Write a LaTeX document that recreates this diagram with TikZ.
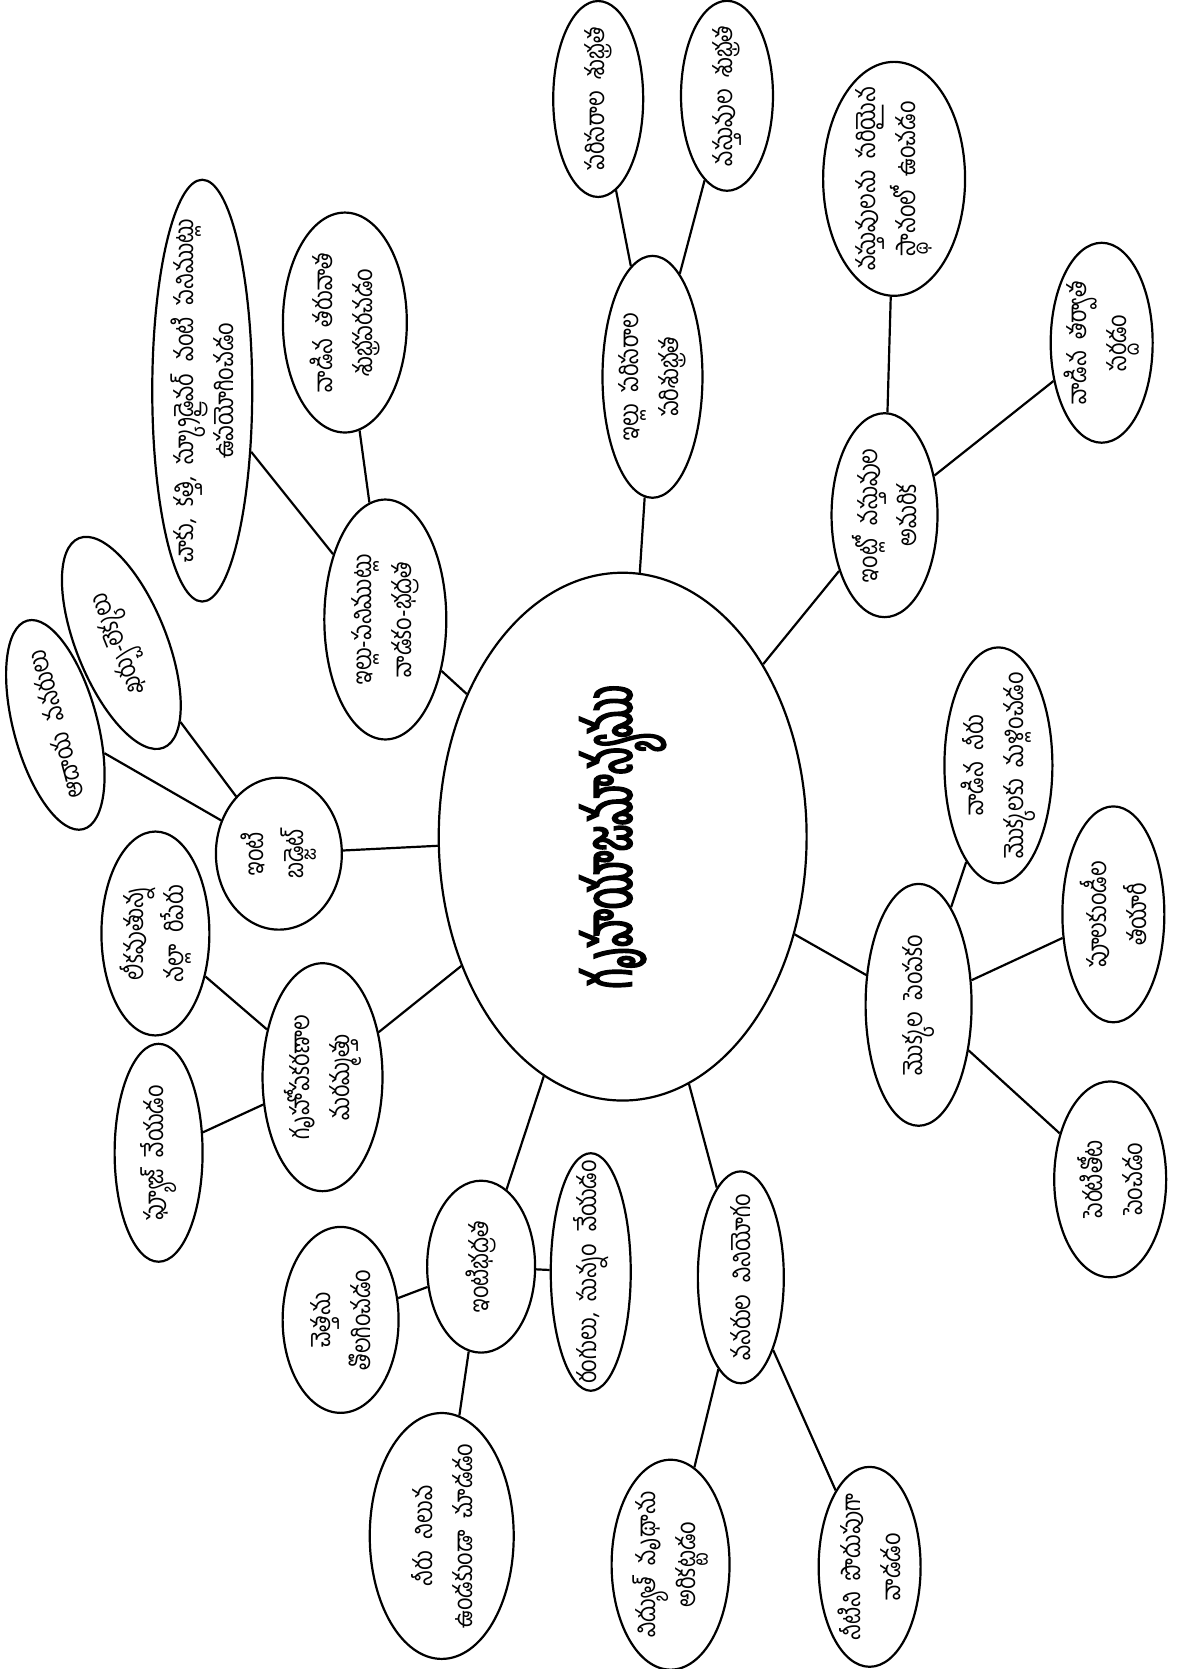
\documentclass[tikz,border=0pt]{standalone}
\usepackage{fontspec}
\newfontfamily\telugu[Script=Telugu, FakeStretch=0.84, WordSpace=2.2]{Hind Guntur}
\newfontfamily\titlefont[Script=Telugu, FakeStretch=0.55, FakeBold=2.5]{Hind Guntur}
\usetikzlibrary{shapes.geometric}

\begin{document}
\begin{tikzpicture}[
    x=0.5324pt, y=-0.5324pt,
    font=\telugu\fontsize{13}{20}\selectfont,
    bubble/.style={draw, ellipse, line width=1.1pt, align=center, rotate=90, inner xsep=-14pt, inner ysep=-10pt},
    oval/.style 2 args={minimum width=#1pt, minimum height=#2pt},
    hub/.style={bubble, font=\titlefont\fontsize{34}{40}\selectfont},
    link/.style={line width=1.1pt}
]
\useasboundingbox (0,0) rectangle (1110,1568);

\node[hub, oval={264}{184}] (hub) at (585,786) {గృహయాజమాన్యము};

\node[bubble, oval={121}{50}] (clean) at (613,354) {ఇల్లు పరిసరాల\\ పరిశుభ్రత};
\node[bubble, oval={98}{45}] (surr) at (562,93) {పరిసరాల శుభ్రత};
\node[bubble, oval={95}{46}] (items) at (683,90) {వస్తువుల శుభ్రత};

\node[bubble, oval={102}{53}] (arrange) at (831,484) {ఇంట్లో వస్తువుల\\ అమరిక};
\node[bubble, oval={117}{71}] (place) at (840,168) {వస్తువులను సరియైన\\ స్థానంలో ఉంచడం};
\node[bubble, oval={100}{51}] (tidy) at (1035,322) {వాడిన తర్వాత\\ సర్దడం};

\node[bubble, oval={121}{53}] (plants) at (863,944) {మొక్కల పెంపకం};
\node[bubble, oval={118}{54}] (water) at (938,719) {వాడిన నీరు\\ మొక్కలకు మళ్లించడం};
\node[bubble, oval={108}{51}] (pots) at (1046,859) {పూలకుండీల\\ తయారీ};
\node[bubble, oval={98}{56}] (garden) at (1043,1108) {పెరటితోట\\ పెంచడం};

\node[bubble, oval={106}{43}] (res) at (696,1200) {వనరుల వినియోగం};
\node[bubble, oval={105}{59}] (power) at (630,1470) {విద్యుత్ వృథాను\\ అరికట్టడం};
\node[bubble, oval={100}{51}] (save) at (817,1472) {నీటిని పొదుపుగా\\ వాడడం};

\node[bubble, oval={86}{54}] (safe) at (452,1190) {ఇంటిభద్రత};
\node[bubble, oval={93}{58}] (trash) at (320,1240) {చెత్తను\\ తొలగించడం};
\node[bubble, oval={123}{72}] (stag) at (415,1443) {నీరు నిలువ\\ ఉండకుండా చూడడం};
\node[bubble, oval={112}{40}] (paint) at (555,1195) {రంగులు, సున్నం వేయడం};

\node[bubble, oval={114}{60}] (repair) at (303,1012) {గృహోపకరణాల\\ మరమ్మత్తు};
\node[bubble, oval={102}{54}] (tap) at (146,877) {లీకవుతున్న\\ నల్లా రిపేరు};
\node[bubble, oval={109}{44}] (fuse) at (149,1083) {ఫ్యూజ్ వేయడం};

\node[bubble, oval={76}{63}] (budget) at (262,802) {ఇంటి\\ బడ్జెట్};
\node[bubble, oval={108}{42}, rotate=15] (income) at (52,681) {ఆదాయ వనరులు};
\node[bubble, oval={113}{45}, rotate=22] (spend) at (114,604) {ఖర్చు-లెక్కలు};

\node[bubble, oval={120}{61}] (tools) at (362,582) {ఇల్లు-పనిముట్లు\\ వాడకం-భద్రత};
\node[bubble, oval={211}{50}, inner xsep=-24pt] (knife) at (190,367) {చాకు, కత్తి, స్క్రూడ్రైవర్ వంటి పనిముట్లు\\ ఉపయోగించడం};
\node[bubble, oval={110}{62}] (wash) at (324,303) {వాడిన తరువాత\\ శుభ్రపరచడం};

\draw[link] (hub) -- (clean) (clean) -- (surr) (clean) -- (items);
\draw[link] (hub) -- (arrange) (arrange) -- (place) (arrange) -- (tidy);
\draw[link] (hub) -- (plants) (plants) -- (water) (plants) -- (pots) (plants) -- (garden);
\draw[link] (hub) -- (res) (res) -- (power) (res) -- (save);
\draw[link] (hub) -- (safe) (safe) -- (trash) (safe) -- (stag) (safe) -- (paint);
\draw[link] (hub) -- (repair) (repair) -- (tap) (repair) -- (fuse);
\draw[link] (hub) -- (budget) (budget) -- (income) (budget) -- (spend);
\draw[link] (hub) -- (tools) (tools) -- (knife) (tools) -- (wash);
\end{tikzpicture}
\end{document}
